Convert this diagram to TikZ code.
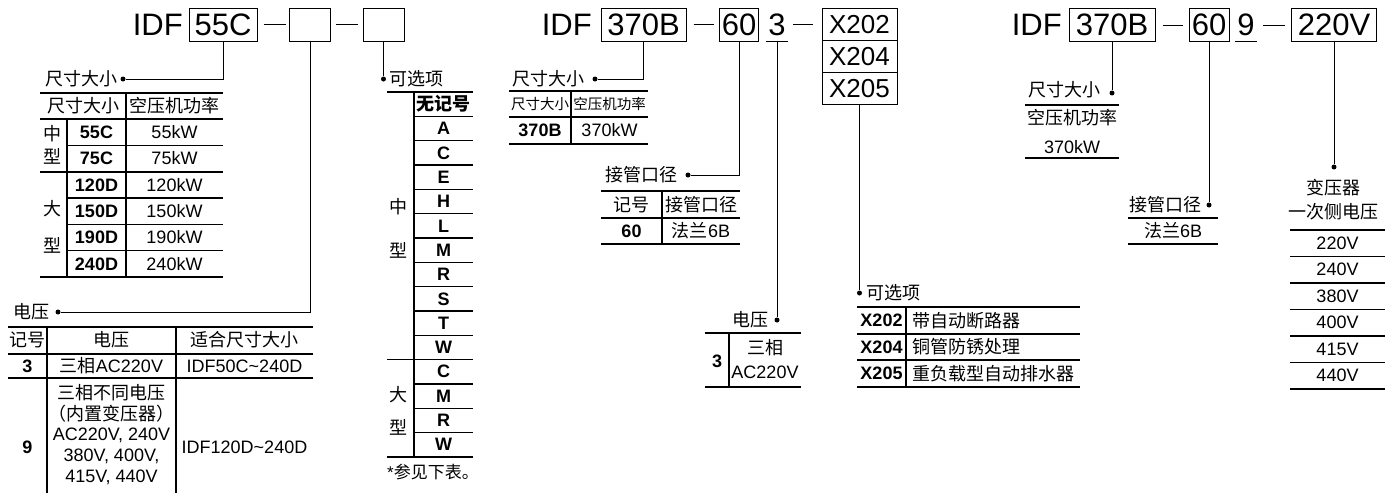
\documentclass[tikz,border=0pt]{standalone}
\usepackage{fontspec}
\setmainfont{Liberation Sans}
\newfontfamily\cjk{Noto Sans CJK SC}
\usetikzlibrary{positioning}
\newcommand{\zh}[1]{{\cjk #1}}

\begin{document}
\begin{tikzpicture}[x=1pt, y=-1pt,
    big/.style={font=\fontsize{31}{31}\selectfont, inner sep=0pt},
    codebox/.style={big, draw, line width=1pt, minimum height=33},
    txt/.style={font=\fontsize{18}{21}\selectfont, inner sep=0pt},
    small/.style={font=\fontsize{14.5}{17}\selectfont, inner sep=0pt},
    bullet/.style={circle, fill, inner sep=0pt, minimum size=5},
    tabline/.style={line width=1.2pt},
    link/.style={line width=1pt}]
  \useasboundingbox (0,0) rectangle (1395,493);

  \node[big, anchor=base east] (idfA) at (183,35.5) {IDF};
  \node[codebox, minimum width=68] (a1) at (223,24.5) {55C};
  \node[codebox, minimum width=41] (a2) at (310,24.5) {};
  \node[codebox, minimum width=41] (a3) at (383.5,24.5) {};
  \draw[link] ([xshift=6]a1.east) -- ([xshift=28]a1.east);
  \draw[link] ([xshift=5]a2.east) -- ([xshift=27]a2.east);

  \node[bullet] (s1) at (123,79) {};
  \node[txt, left=3pt of s1] (s1t) {\zh{尺寸大小}};
  \draw[link] (a1.south) |- (s1);
  \draw[tabline] (40,93) -- (223,93) (40,119) -- (223,119) (40,172) -- (223,172) (40,277) -- (223,277);
  \foreach \y in {145.3,198,224.3,250.7}
    \draw[tabline] (67,\y) -- (223,\y);
  \draw[tabline] (67,119) -- (67,277) (126,93) -- (126,277);
  \node[txt] (h1) at (83,106) {\zh{尺寸大小}};
  \node[txt] (h2) at (174.5,106) {\zh{空压机功率}};
  \foreach \c/\k [count=\i] in {55C/55,75C/75,120D/120,150D/150,190D/190,240D/240} {
    \node[txt] (code\i) at (96.5,{119+26.33*(\i-0.5)}) {\textbf{\c}};
    \node[txt] (pow\i) at (174.5,{119+26.33*(\i-0.5)}) {\k kW};
  }
  \node[txt] (g1) at (52,134) {\zh{中}};
  \node[txt] (g2) at (52,156) {\zh{型}};
  \node[txt] (g3) at (52,209) {\zh{大}};
  \node[txt] (g4) at (52,245) {\zh{型}};

  \node[bullet] (s2) at (58,312) {};
  \node[txt, left=6pt of s2] (s2t) {\zh{电压}};
  \draw[link] (a2.south) |- (s2);
  \draw[tabline] (8,327) -- (313,327) (8,354) -- (313,354) (8,378) -- (313,378);
  \draw[tabline] (47,327) -- (47,493) (176,327) -- (176,493);
  \node[txt] (v1) at (27.5,340) {\zh{记号}};
  \node[txt] (v2) at (111.5,340) {\zh{电压}};
  \node[txt] (v3) at (244.5,340) {\zh{适合尺寸大小}};
  \node[txt] (v4) at (27.5,366) {\textbf{3}};
  \node[txt] (v5) at (111.5,366) {\zh{三相}AC220V};
  \node[txt] (v6) at (244.5,366) {IDF50C\char`~240D};
  \node[txt] (v7) at (27.5,447) {\textbf{9}};
  \node[txt, align=center, font=\fontsize{18}{20.8}\selectfont] (v8) at (111.5,434.5)
    {\zh{三相不同电压}\\\zh{（内置变压器）}\\AC220V, 240V\\380V, 400V,\\415V, 440V};
  \node[txt] (v9) at (244.5,447) {IDF120D\char`~240D};

  \node[bullet] (s3) at (383.5,79) {};
  \node[txt, right=3pt of s3] (s3t) {\zh{可选项}};
  \draw[link] (a3.south) -- (s3);
  \draw[tabline] (387,92) -- (473,92) (387,359.7) -- (473,359.7) (387,457) -- (473,457) (414,92) -- (414,457);
  \foreach \i in {1,...,10,12,13,14}
    \draw[tabline] (414,{92+24.33*\i}) -- (473,{92+24.33*\i});
  \node[txt] (o0) at (443.5,104.2) {\zh{\bfseries 无记号}};
  \foreach \t [count=\i] in {A,C,E,H,L,M,R,S,T,W,C,M,R,W}
    \node[txt] (o\i) at (443.5,{92+24.33*(\i+0.5)}) {\textbf{\t}};
  \node[txt] (k1) at (398,207) {\zh{中}};
  \node[txt] (k2) at (398,250) {\zh{型}};
  \node[txt] (k3) at (398,395) {\zh{大}};
  \node[txt] (k4) at (398,427) {\zh{型}};
  \node[txt, anchor=west, font=\fontsize{17}{20}\selectfont] (note) at (387,472) {*\zh{参见下表。}};

  \node[big, anchor=base east] (idfB) at (592,35.5) {IDF};
  \node[codebox, minimum width=85] (b1) at (643.5,24.5) {370B};
  \node[codebox, minimum width=39] (b2) at (739,24.5) {60};
  \node[big, minimum width=22, minimum height=33] (b3) at (777,24.5) {3};
  \draw[link] (b3.south west) -- (b3.south east);
  \node[codebox, font=\fontsize{26}{26}\selectfont, minimum width=75, minimum height=32] (x1) at (859.5,24.5) {X202};
  \node[codebox, font=\fontsize{26}{26}\selectfont, minimum width=75, minimum height=32, below=-1pt of x1] (x2) {X204};
  \node[codebox, font=\fontsize{26}{26}\selectfont, minimum width=75, minimum height=32, below=-1pt of x2] (x3) {X205};
  \draw[link] ([xshift=7]b1.east) -- ([xshift=27]b1.east);
  \draw[link] ([xshift=5]b3.east) -- ([xshift=25]b3.east);

  \node[bullet] (m1) at (595,79) {};
  \node[txt, left=8pt of m1] (m1t) {\zh{尺寸大小}};
  \draw[link] (b1.south) |- (m1);
  \draw[tabline] (509,91) -- (648,91) (509,117) -- (648,117) (509,144) -- (648,144) (571,91) -- (571,144);
  \node[small] (p1) at (540,104) {\zh{尺寸大小}};
  \node[small] (p2) at (609.5,104) {\zh{空压机功率}};
  \node[txt] (p3) at (540,130.5) {\textbf{370B}};
  \node[txt] (p4) at (609.5,130.5) {370kW};

  \node[bullet] (m2) at (688,175) {};
  \node[txt, left=8pt of m2] (m2t) {\zh{接管口径}};
  \draw[link] (b2.south) |- (m2);
  \draw[tabline] (601,191) -- (740,191) (601,218) -- (740,218) (601,244) -- (740,244) (662,191) -- (662,244);
  \node[txt] (q1) at (631.5,204.5) {\zh{记号}};
  \node[txt] (q2) at (701,204.5) {\zh{接管口径}};
  \node[txt] (q3) at (631.5,231) {\textbf{60}};
  \node[txt] (q4) at (701,231) {\zh{法兰}6B};

  \node[bullet] (m3) at (777,320) {};
  \node[txt, left=6pt of m3] (m3t) {\zh{电压}};
  \draw[link] (b3.south) -- (m3);
  \draw[tabline] (705,333) -- (801,333) (705,387) -- (801,387) (729,333) -- (729,387);
  \node[txt] (u1) at (717,361) {\textbf{3}};
  \node[txt] (u2) at (765,348) {\zh{三相}};
  \node[txt] (u3) at (765,372) {AC220V};

  \node[bullet] (m4) at (859.5,293) {};
  \node[txt, right=4pt of m4] (m4t) {\zh{可选项}};
  \draw[link] (x3.south) -- (m4);
  \draw[tabline] (857,307) -- (1080,307) (857,334) -- (1080,334) (857,360) -- (1080,360) (857,387) -- (1080,387);
  \draw[tabline] (906,307) -- (906,387);
  \foreach \c/\d [count=\i] in {X202/带自动断路器,X204/铜管防锈处理,X205/重负载型自动排水器} {
    \node[txt] (xc\i) at (881.5,{307+26.67*(\i-0.5)}) {\textbf{\c}};
    \node[txt, anchor=west] (xd\i) at (912,{307+26.67*(\i-0.5)}) {\zh{\d}};
  }

  \node[big, anchor=base east] (idfC) at (1062,35.5) {IDF};
  \node[codebox, minimum width=86] (c1) at (1112,25) {370B};
  \node[codebox, minimum width=40] (c2) at (1209,25) {60};
  \node[big, minimum width=22, minimum height=33] (c3) at (1246,25) {9};
  \draw[link] (c3.south west) -- (c3.south east);
  \node[codebox, minimum width=85] (c4) at (1334,25) {220V};
  \draw[link] ([xshift=7]c1.east) -- ([xshift=27]c1.east);
  \draw[link] ([xshift=6]c3.east) -- ([xshift=28]c3.east);

  \node[bullet] (n1) at (1112,93) {};
  \node[txt, left=9pt of n1, yshift=3pt] (n1t) {\zh{尺寸大小}};
  \draw[link] (c1.south) -- (n1);
  \draw[tabline] (1025,105) -- (1119,105) (1025,158) -- (1119,158);
  \node[txt] (r1) at (1072,118) {\zh{空压机功率}};
  \node[txt] (r2) at (1072,147) {370kW};

  \node[bullet] (n2) at (1209,205) {};
  \node[txt, left=5pt of n2] (n2t) {\zh{接管口径}};
  \draw[link] (c2.south) -- (n2);
  \draw[tabline] (1128,218) -- (1218,218) (1128,244) -- (1218,244);
  \node[txt] (r3) at (1173,231) {\zh{法兰}6B};

  \node[bullet] (n3) at (1334,167) {};
  \node[txt] (n3a) at (1333,188) {\zh{变压器}};
  \node[txt] (n3b) at (1333,212) {\zh{一次侧电压}};
  \draw[link] (c4.south) -- (n3);
  \foreach \k in {0,...,6}
    \draw[tabline] (1290,{230+26.5*\k}) -- (1385,{230+26.5*\k});
  \foreach \v [count=\i] in {220V,240V,380V,400V,415V,440V}
    \node[txt] (w\i) at (1337.5,{230+26.5*(\i-0.5)}) {\v};
\end{tikzpicture}
\end{document}
